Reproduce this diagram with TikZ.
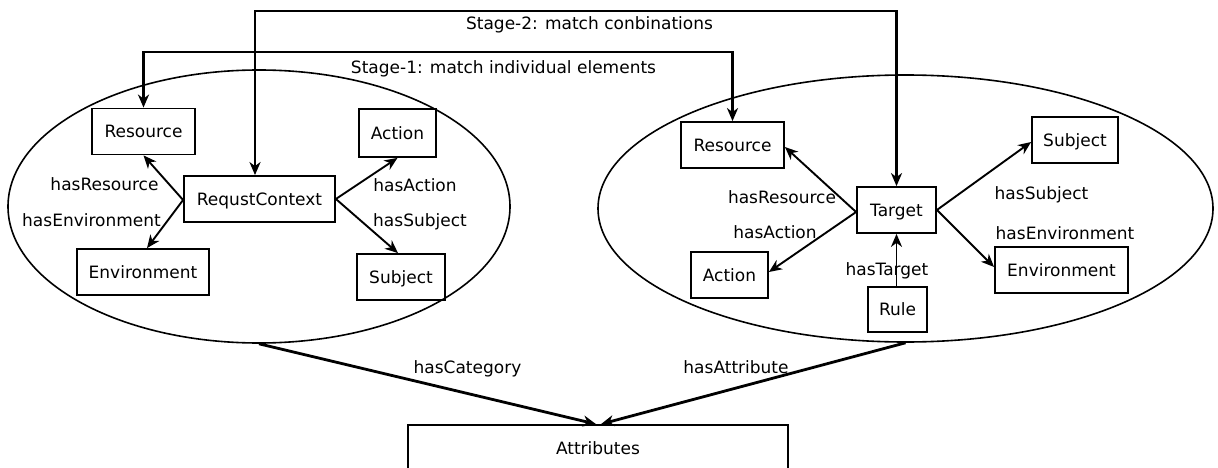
\documentclass[tikz,border=0pt]{standalone}
\usepackage{fontspec}
\setmainfont{DejaVu Sans}
\usetikzlibrary{shapes.geometric,arrows.meta}

\begin{document}
\begin{tikzpicture}[x=1pt,y=-1pt,
  font=\fontsize{17}{20}\selectfont,
  every node/.style={inner sep=0pt, text height=12.4pt, text depth=0pt},
  box/.style={draw, line width=1.8pt, minimum height=46pt},
  cloud/.style={draw, ellipse, line width=1.6pt, inner sep=0pt},
  tip/.style={-{Stealth[length=13pt,width=11pt,inset=4pt]}},
  rel/.style={tip, line width=1.9pt},
  stage/.style={{Stealth[length=13pt,width=11pt,inset=4pt]}-{Stealth[length=13pt,width=11pt,inset=4pt]}, line width=2.8pt},
  link/.style={tip, line width=2.8pt},
  lbl/.style={}
]
\useasboundingbox (0,0) rectangle (1218,468);

% request side
\node[cloud, minimum width=502pt, minimum height=273pt] (lEll) at (259,206.5) {};
\node[box, minimum width=103pt] (lRes) at (143.5,131.5) {Resource};
\node[box, minimum width=77pt, minimum height=48pt] (lAct) at (397.5,133) {Action};
\node[box, minimum width=151pt] (lRC) at (259.5,199) {RequstContext};
\node[box, minimum width=132pt] (lEnv) at (143,272) {Environment};
\node[box, minimum width=88pt] (lSub) at (401,277) {Subject};

% policy side
\node[cloud, minimum width=615pt, minimum height=267pt] (rEll) at (905.5,208.5) {};
\node[box, minimum width=103pt] (rRes) at (732.5,145) {Resource};
\node[box, minimum width=86pt] (rSub) at (1075,140) {Subject};
\node[box, minimum width=79pt] (rTgt) at (896.5,210) {Target};
\node[box, minimum width=77pt] (rAct) at (729.5,275) {Action};
\node[box, minimum width=133pt] (rEnv) at (1061.5,270) {Environment};
\node[box, minimum width=59pt, minimum height=45pt] (rRule) at (897.5,309.5) {Rule};

% shared attributes
\node[box, minimum width=380pt] (attr) at (598,448) {Attributes};

% request context relations
\draw[rel] ([yshift=-1pt]lRC.west) -- (lRes.south);
\draw[rel] ([yshift=-1pt]lRC.west) -- ([xshift=4pt]lEnv.north);
\draw[rel] (lRC.east) -- (lAct.south);
\draw[rel] (lRC.east) -- ([xshift=-3pt]lSub.north);
\node[lbl] (lHasRes) at (104.5,184) {hasResource};
\node[lbl] (lHasEnv) at (91.5,220) {hasEnvironment};
\node[lbl] (lHasAct) at (415,185) {hasAction};
\node[lbl] (lHasSub) at (420,220) {hasSubject};

% target relations
\draw[rel] ([yshift=-2pt]rTgt.west) -- ([yshift=-2pt]rRes.east);
\draw[rel] ([yshift=-2pt]rTgt.west) -- ([yshift=3pt]rAct.east);
\draw[rel] (rTgt.east) -- ([yshift=-2pt]rSub.west);
\draw[rel] (rTgt.east) -- ([yshift=3pt]rEnv.west);
\draw[rel] (rRule.north -| rTgt.south) -- (rTgt.south);
\node[lbl] (rHasRes) at (782,197) {hasResource};
\node[lbl] (rHasAct) at (775,232) {hasAction};
\node[lbl] (rHasSub) at (1041.5,193) {hasSubject};
\node[lbl] (rHasEnv) at (1065,233) {hasEnvironment};
\node[lbl] (rHasTgt) at (887,269) {hasTarget};

% matching stages
\coordinate (s2) at (576,11);
\coordinate (s1) at (438,52);
\draw[stage] ([xshift=-4.5pt]lRC.north) |- (s2) -| (rTgt.north);
\draw[stage] (lRes.north) |- (s1) -| (rRes.north);
\node[lbl] (s2lbl) at (589.5,23) {Stage-2: match conbinations};
\node[lbl] (s1lbl) at (503.5,67) {Stage-1: match individual elements};

% links to attributes
\draw[link] (lEll.south) -- ([xshift=-2pt]attr.north);
\draw[link] (rEll.south) -- ([xshift=3pt]attr.north);
\node[lbl] (hasCat) at (467.5,367) {hasCategory};
\node[lbl] (hasAttr) at (736,367) {hasAttribute};
\end{tikzpicture}
\end{document}
